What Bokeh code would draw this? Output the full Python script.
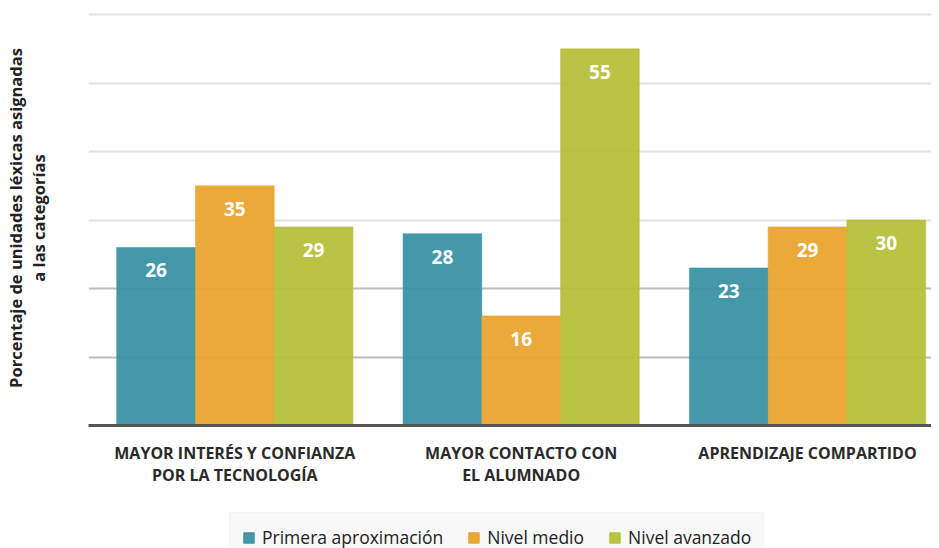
from bokeh.plotting import figure
from bokeh.layouts import column
from bokeh.models import (ColumnDataSource, FixedTicker, Range1d, Legend, LegendItem, Grid)
from bokeh.transform import dodge
from bokeh.core.properties import value
from bokeh.embed import file_html
from bokeh.resources import INLINE

categories = ["MAYOR INTERÉS Y CONFIANZA\nPOR LA TECNOLOGÍA",
              "MAYOR CONTACTO CON\nEL ALUMNADO",
              "APRENDIZAJE COMPARTIDO"]
series_names = ["Primera aproximación", "Nivel medio", "Nivel avanzado"]
primera = [26, 28, 23]
medio = [35, 16, 29]
avanzado = [29, 55, 30]
colors = ["#3590a3", "#eaa22c", "#b6be37"]
y_label = "Porcentaje de unidades léxicas asignadas\na las categorías"

FONT = "Open Sans"

src = ColumnDataSource(dict(
    x=list(range(len(categories))),
    primera=primera, medio=medio, avanzado=avanzado,
    primera_t=[str(v) for v in primera],
    medio_t=[str(v) for v in medio],
    avanzado_t=[str(v) for v in avanzado],
))

p = figure(width=931, height=505, output_backend="svg", toolbar_location=None,
           x_range=Range1d(-0.511, 2.433), y_range=Range1d(0, 60.6),
           min_border_left=84, min_border_right=0, min_border_top=10, min_border_bottom=80)
p.outline_line_color = None
p.background_fill_color = "white"

offsets = [-0.275, 0.0, 0.275]
cols = ["primera", "medio", "avanzado"]
for name, col, off, c in zip(series_names, cols, offsets, colors):
    p.vbar(x=dodge("x", off), top=col, width=0.275, source=src,
           fill_color=c, fill_alpha=0.93, line_color=c, line_alpha=0.5, line_width=1)
    p.text(x=dodge("x", off), y=col, text=col + "_t", source=src,
           text_align="center", text_baseline="middle", y_offset=23,
           text_color="white", text_font=value(FONT), text_font_style="bold",
           text_font_size="19px")

# grids
p.xgrid.grid_line_color = None
p.ygrid.ticker = FixedTicker(ticks=[30, 40, 50, 60])
p.ygrid.grid_line_color = "#e2e2e2"
p.ygrid.grid_line_width = 2
g2 = Grid(dimension=1, ticker=FixedTicker(ticks=[10, 20]),
          grid_line_color="#bdbdbd", grid_line_width=2)
p.add_layout(g2, "center")

# y axis
p.yaxis.ticker = FixedTicker(ticks=[])
p.yaxis.axis_line_color = None
p.yaxis.major_tick_line_color = None
p.yaxis.minor_tick_line_color = None
p.yaxis.major_label_text_font_size = "0px"
p.yaxis.major_label_standoff = 0
p.yaxis.axis_label = y_label
p.yaxis.axis_label_text_font = FONT
p.yaxis.axis_label_text_font_style = "bold"
p.yaxis.axis_label_text_font_size = "16.5px"
p.yaxis.axis_label_text_line_height = 1.0
p.yaxis.axis_label_text_color = "#222222"
p.yaxis.axis_label_standoff = 39

# x axis
p.xaxis.ticker = FixedTicker(ticks=list(range(len(categories))))
p.xaxis.major_label_overrides = {i: c for i, c in enumerate(categories)}
p.xaxis.axis_line_color = "#555555"
p.xaxis.axis_line_width = 3
p.xaxis.major_tick_line_color = None
p.xaxis.minor_tick_line_color = None
p.xaxis.major_label_standoff = 10
p.xaxis.major_label_text_font = FONT
p.xaxis.major_label_text_font_style = "bold"
p.xaxis.major_label_text_font_size = "16px"
p.xaxis.major_label_text_line_height = 1.0
p.xaxis.major_label_text_color = "#2a2a2a"

# legend strip
p2 = figure(width=931, height=43, output_backend="svg", toolbar_location=None,
            x_range=Range1d(0, 1), y_range=Range1d(0, 1),
            min_border_left=0, min_border_right=0, min_border_top=0, min_border_bottom=0)
p2.outline_line_color = None
p2.axis.visible = False
p2.grid.visible = False
items = []
for name, col, c in zip(series_names, cols, colors):
    r = p2.vbar(x="x", top=col, width=0.275, source=src, visible=False,
                fill_color=c, line_color=c, fill_alpha=0.93)
    items.append(LegendItem(label=name, renderers=[r]))

legend = Legend(items=items, orientation="horizontal", location=(141, -14),
                label_text_font=FONT, label_text_font_size="17.5px",
                label_text_color="#222222", glyph_width=13, glyph_height=13,
                label_standoff=7, spacing=24, padding=12, margin=0,
                background_fill_color="#f8f8f8", border_line_color="#eeeeee",
                border_line_width=1)
p2.add_layout(legend, "center")

layout = column(p, p2, spacing=0)
open("out.html", "w").write(file_html(layout, INLINE))
